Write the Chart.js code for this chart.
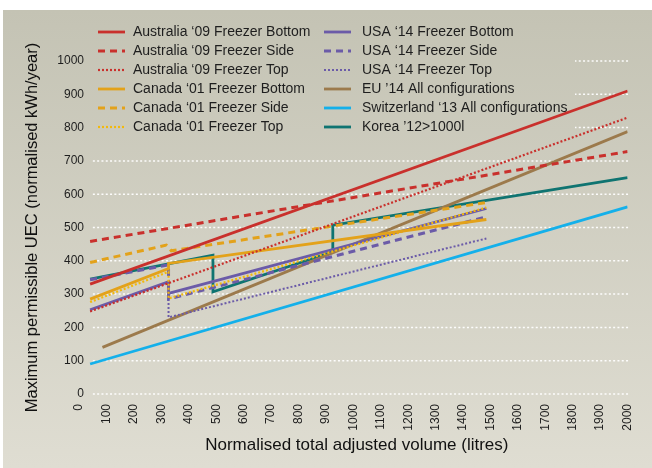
<!DOCTYPE html>
<html>
<head>
<meta charset="utf-8">
<script src="https://cdn.jsdelivr.net/npm/chart.js@4/dist/chart.umd.min.js"></script>
<style>
html, body { margin:0; padding:0; background:#fff; }
</style>
</head>
<body>
<canvas id="myChart" width="652" height="468"></canvas>
<script>
// series: [litres, kWh/year]
var ausBottom = [[40,330],[2000,910]];
var ausSide   = [[40,458],[2000,728]];
var ausTop    = [[40,248],[2000,830]];
var canBottom = [[40,285],[326,377],[326,392],[1485,524]];
var canSide   = [[40,395],[318,447],[336,430],[1485,575]];
var canTop    = [[40,276],[326,367],[326,287],[1485,560]];
var usaBottom = [[40,253],[326,337],[326,302],[1485,557]];
var usaSide   = [[40,343],[326,388],[326,285],[1485,532]];
var usaTop    = [[40,250],[326,335],[326,230],[1485,467]];
var euAll     = [[85,140],[2000,788]];
var swissAll  = [[40,90],[2000,562]];
var korea     = [[40,345],[488,417],[488,307],[925,427],[925,507],[2000,650]];

var names = [
  "Australia \u201809 Freezer Bottom", "Australia \u201809 Freezer Side", "Australia \u201809 Freezer Top",
  "Canada \u201801 Freezer Bottom", "Canada \u201801 Freezer Side", "Canada \u201801 Freezer Top",
  "USA \u201814 Freezer Bottom", "USA \u201814 Freezer Side", "USA \u201814 Freezer Top",
  "EU \u201914 All configurations", "Switzerland \u201813 All configurations", "Korea \u201912>1000l"
];
var xTicks = [0,100,200,300,400,500,600,700,800,900,1000,1100,1200,1300,1400,1500,1600,1700,1800,1900,2000];
var yTicks = [0,100,200,300,400,500,600,700,800,900,1000];

var FONT = 'Liberation Sans';
var red = '#c9302c', orange = '#e3a21a', yellow = '#f2b90c', purple = '#6b5ba8';

function pts(a){ return a.map(function(p){ return {x:p[0], y:p[1]}; }); }
function ds(i, arr, color, width, dash){
  return { label:names[i], data:pts(arr), borderColor:color, borderWidth:width,
           borderDash:dash, pointRadius:0, fill:false, tension:0 };
}

var bgGrad = null;
function getGrad(c){
  if (!bgGrad) {
    bgGrad = c.createLinearGradient(0,10,0,468);
    bgGrad.addColorStop(0,'#c4c3b4');
    bgGrad.addColorStop(1,'#dfddd2');
  }
  return bgGrad;
}

// background, dotted grid and the legend all go under the scales and lines
var backdrop = {
  id:'backdrop',
  beforeDraw: function(chart){
    var c = chart.ctx, xs = chart.scales.x, ys = chart.scales.y;
    c.save();
    c.fillStyle = '#fff';
    c.fillRect(0,0,chart.width,chart.height);
    c.fillStyle = getGrad(c);
    c.fillRect(3,10,chart.width-3,chart.height-10);

    c.strokeStyle = 'rgba(255,255,255,0.95)';
    c.lineWidth = 1.5;
    c.setLineDash([2,2.3]);
    yTicks.forEach(function(v){
      var py = ys.getPixelForValue(v);
      c.beginPath();
      c.moveTo(xs.getPixelForValue(50), py);
      c.lineTo(xs.getPixelForValue(2000)+1, py);
      c.stroke();
    });

    c.setLineDash([]);
    c.fillStyle = getGrad(c);
    c.fillRect(86,16,489,128);
    c.font = '14px "' + FONT + '"';
    c.textBaseline = 'middle';
    chart.data.datasets.forEach(function(d, i){
      var col = i < 6 ? 0 : 1, row = i % 6;
      var lx = col ? 324 : 98, tx = col ? 362 : 133, y = 32 + row*19;
      c.strokeStyle = d.borderColor;
      c.lineWidth = d.borderWidth;
      c.setLineDash(d.borderDash || []);
      c.beginPath(); c.moveTo(lx,y); c.lineTo(lx+27,y); c.stroke();
      c.fillStyle = '#1e1e1e';
      c.fillText(d.label, tx, y);
    });
    c.restore();
  }
};

var ctx = document.getElementById('myChart').getContext('2d');
var myChart = new Chart(ctx, {
  type:'line',
  data:{
    datasets:[
      ds(0, ausBottom, red, 2.8, []),
      ds(1, ausSide, red, 3, [7,5]),
      ds(2, ausTop, red, 2.2, [2,2]),
      ds(3, canBottom, orange, 2.8, []),
      ds(4, canSide, orange, 3, [7,5]),
      ds(5, canTop, yellow, 2.2, [2,2]),
      ds(6, usaBottom, purple, 2.8, []),
      ds(7, usaSide, purple, 3, [7,5]),
      ds(8, usaTop, purple, 2, [2,2]),
      ds(9, euAll, '#9c7a4c', 2.8, []),
      ds(10, swissAll, '#14b0ea', 2.8, []),
      ds(11, korea, '#0f7471', 2.8, [])
    ]
  },
  options:{
    responsive:false,
    animation:false,
    devicePixelRatio:1,
    layout:{ padding:{ left:20, right:12, top:61, bottom:12 } },
    plugins:{ legend:{display:false}, tooltip:{enabled:false} },
    scales:{
      x:{
        type:'linear', min:25, max:2000,
        grid:{display:false, drawTicks:false}, border:{display:false},
        afterBuildTicks:function(s){ s.ticks = xTicks.map(function(v){ return {value:v}; }); },
        ticks:{ autoSkip:false, minRotation:90, maxRotation:90, padding:10,
                color:'#1e1e1e', font:{family:FONT, size:12},
                callback:function(v){ return String(v); } },
        title:{ display:true, text:'Normalised total adjusted volume (litres)', color:'#111',
                font:{family:FONT, size:17}, padding:{top:2, bottom:0} },
        afterFit:function(s){ s.height = 62; }
      },
      y:{
        min:0, max:1000,
        grid:{display:false, drawTicks:false}, border:{display:false},
        ticks:{ stepSize:100, padding:2, color:'#1e1e1e', font:{family:FONT, size:12},
                callback:function(v){ return String(v); } },
        title:{ display:true, text:'Maximum permissible UEC (normalised kWh/year)', color:'#111',
                font:{family:FONT, size:16.5}, padding:{top:3, bottom:0} },
        afterFit:function(s){ s.width = 66; }
      }
    }
  },
  plugins:[backdrop]
});
</script>
</body>
</html>
